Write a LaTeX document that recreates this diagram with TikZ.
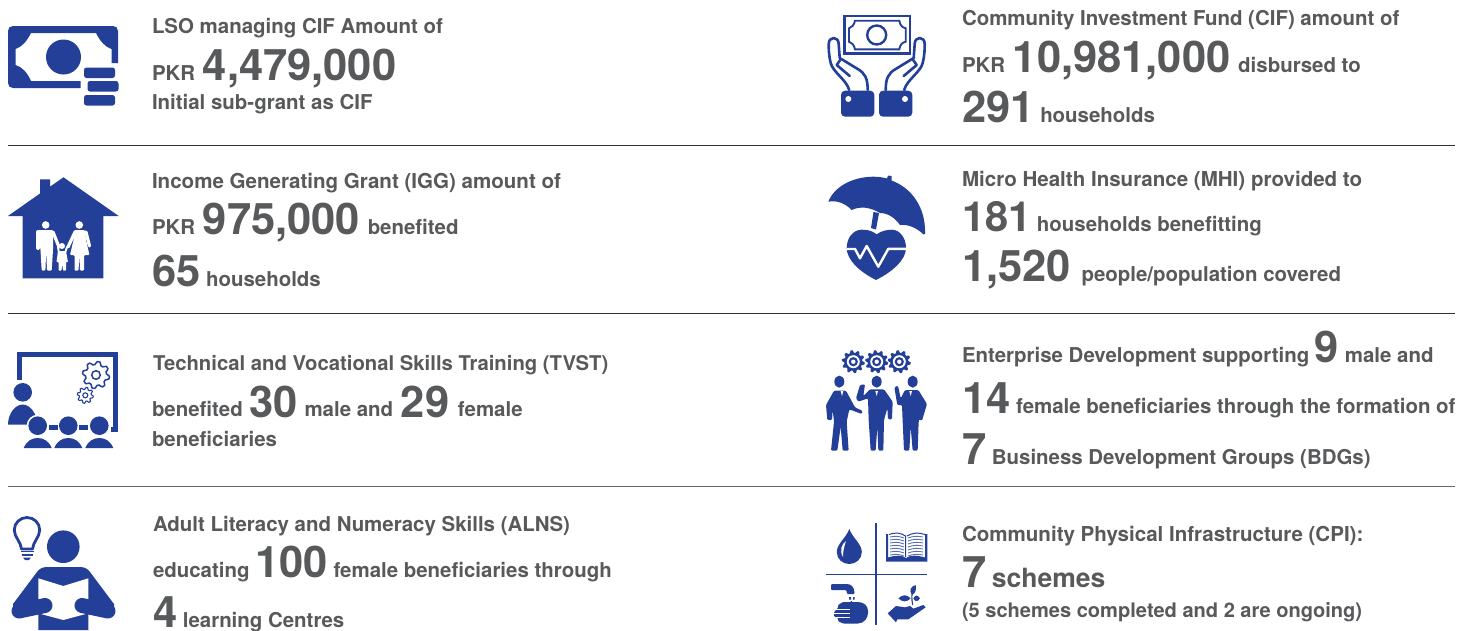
\documentclass[tikz,border=0pt]{standalone}
\usepackage{fontspec}
\setmainfont{TeX Gyre Heros}
\definecolor{ib}{HTML}{233F97}
\definecolor{tg}{HTML}{58595B}
\newcommand\sm{\fontsize{20.45}{24}\selectfont}
\newcommand\szt[1]{\fontsize{#1}{24}\selectfont}
\newcommand\bn[1]{{\fontsize{43.5}{48}\selectfont #1}}
\newcommand\md[1]{{\fontsize{26.5}{30}\selectfont #1}}
\newcommand\gap{\hspace{2pt}}
\newcommand\gearp[7]{% cx cy rout rin teeth rot drawopts
  \path[#7] plot[domain=0:360,samples=#5*8+1] ({#1+(((#3+#4)/2)+((#3-#4)/2)*max(-1,min(1,3*sin(#5*\x+#6))))*cos(\x)},{#2+(((#3+#4)/2)+((#3-#4)/2)*max(-1,min(1,3*sin(#5*\x+#6))))*sin(\x)}) -- cycle;
}
\tikzset{
  x=1pt,y=-1pt,
  tl/.style={anchor=base west,inner sep=0pt,outer sep=0pt,text=tg,font=\bfseries\sm},
  rule/.style={draw=#1,line width=.9pt},
  lb/.style={draw=ib,fill=none,line width=#1,line cap=round,line join=round},
  wl/.style={draw=white,line width=#1,line cap=round,line join=round},
  zm/.style={x=.33333pt,y=-.33333pt},
}
\begin{document}
\begin{tikzpicture}
\useasboundingbox (0,0) rectangle (1473,630);
\coordinate (r1a) at (8,145); \coordinate (r1b) at (1455,145);
\coordinate (r2a) at (8,313); \coordinate (r2b) at (1455,313);
\coordinate (r3a) at (8,486); \coordinate (r3b) at (1455,486);
\draw[rule=black!80] (r1a) -- (r1b);
\draw[rule=black!80] (r2a) -- (r2b);
\draw[rule=black!60] (r3a) -- (r3b);
% ---- left text
\node[tl] (a1) at (152,33) {LSO managing CIF Amount of};
\node[tl] (a2) at (152,80) {PKR\gap{} \bn{4,479,000}};
\node[tl] (a3) at (152,109) {Initial sub-grant as CIF};
\node[tl] (b1) at (152,188) {\szt{20.55}Income Generating Grant (IGG) amount of};
\node[tl] (b2) at (152,234.5) {PKR\gap{} \bn{975,000}\gap{} benefited};
\node[tl] (b3) at (152,286) {\bn{65} households};
\node[tl] (c1) at (153,370) {\szt{20.3}Technical and Vocational Skills Training (TVST)};
\node[tl] (c2) at (152,416) {benefited\hspace{1pt} \raisebox{-1.5pt}{\bn{30}}\hspace{1pt} male and\hspace{2pt} \raisebox{-1.5pt}{\bn{29}}\hspace{3pt} female};
\node[tl] (c3) at (152,446) {beneficiaries};
\node[tl] (d1) at (153,531) {Adult Literacy and Numeracy Skills (ALNS)};
\node[tl] (d2) at (153,577) {educating \bn{100} female beneficiaries through};
\node[tl] (d3) at (153,627) {\bn{4} learning Centres};
% ---- right text
\node[tl] (e1) at (962,25) {Community Investment Fund (CIF) amount of};
\node[tl] (e2) at (962,72) {PKR\gap{} \bn{10,981,000}\gap{} disbursed to};
\node[tl] (e3) at (962,122) {\bn{291} households};
\node[tl] (f1) at (962,186) {\szt{20.55}Micro Health Insurance (MHI) provided to};
\node[tl] (f2) at (962,231) {\bn{\fontsize{41.5}{48}\selectfont 181} households benefitting};
\node[tl] (f3) at (962,281) {\bn{1,520}\hspace{5pt} people/population covered};
\node[tl] (g1) at (962,362) {Enterprise Development supporting \bn{9} male and};
\node[tl] (g2) at (962,413) {\bn{14} female beneficiaries through the formation of};
\node[tl] (g3) at (962,464) {\bn{7} Business Development Groups (BDGs)};
\node[tl] (h1) at (962,541) {\szt{20.55}Community Physical Infrastructure (CPI):};
\node[tl] (h2) at (962,587) {\bn{7} \md{schemes}};
\node[tl] (h3) at (962,617) {\szt{20.05}(5 schemes completed and 2 are ongoing)};
% ---- icon 1 money
\fill[ib] (118,63) -- (118,31) .. controls (118,28) and (116,26) .. (113,26) -- (13,26) .. controls (10,26) and (8,28) .. (8,31) -- (8,83) .. controls (8,86) and (10,88) .. (13,88) -- (80.5,88) -- (80.5,81) -- (31,81) .. controls (27,72) and (22,67) .. (15.5,65) -- (15.5,49) .. controls (22,47) and (27,41) .. (31,33) -- (96,33) .. controls (100,41) and (105,47) .. (111.5,49) -- (111.5,63) -- cycle;
\fill[ib] (63.5,57) circle[radius=17.5];
\fill[ib,rounded corners=2.5pt] (84,67.5) rectangle (115,78);
\fill[ib,rounded corners=2.5pt] (87.5,81) rectangle (118.5,91.5);
\fill[ib,rounded corners=2.5pt] (84,95) rectangle (115,105.5);
% ---- icon 2 house
\fill[ib] (8,216) -- (40,193.5) -- (40,179.3) -- (50,179.3) -- (50,186.7) -- (63.5,177.3) -- (118.7,216) -- (103.3,216) -- (103.3,278.3) -- (22.7,278.3) -- (22.7,216) -- cycle;
\fill[white] (45.7,225) circle[radius=3.8] (79.3,225) circle[radius=3.8] (62,246) circle[radius=3];
\draw[wl=4pt] (38,232) -- (38,248);
\fill[white,rounded corners=1pt] (38,230.2) -- (53,230.2) -- (53,250) -- (51.7,270.5) -- (47,270.5) -- (46.2,251) -- (45.4,270.5) -- (41.7,270.5) -- (40.5,250) -- cycle;
\draw[wl=3.2pt] (53,232) -- (59,247);
\fill[white,rounded corners=1pt] (74,230.2) -- (85,230.2) -- (86,240) -- (89.5,255) -- (84,255) -- (84,270.5) -- (80,270.5) -- (79.5,255) -- (78.5,270.5) -- (74.5,270.5) -- (74.5,255) -- (70,255) -- (73.5,240) -- cycle;
\draw[wl=3.2pt] (75,232) -- (68,247);
\draw[wl=3.2pt] (86,232) -- (89.5,246);
\draw[wl=2pt] (59,253) -- (58,247) (65,253) -- (67,247);
\fill[white,rounded corners=.6pt] (58,251) -- (66,251) -- (68,262) -- (66,262) -- (66,270.5) -- (63,270.5) -- (62.2,264) -- (61.5,270.5) -- (58.5,270.5) -- (58.5,262) -- (56.5,262) -- cycle;
% ---- icon 3 training
\draw[draw=ib,line width=4.5pt,line join=miter] (19.5,380) -- (19.5,354.5) -- (115.7,354.5) -- (115.7,429.5) -- (111,429.5);
\fill[ib] (22.7,392.3) circle[radius=9.3];
\fill[ib] (8,424.7) .. controls (8,414) and (15,404.5) .. (22.7,404.5) .. controls (30,404.5) and (37.4,414) .. (37.4,424.7) -- cycle;
\gearp{96}{375}{13.5}{10.5}{8}{0}{draw=ib,fill=white,line width=1.5pt}
\draw[ib,line width=1.5pt] (96,375) circle[radius=4.3];
\gearp{85.3}{395.3}{8}{6}{8}{0}{draw=ib,fill=white,line width=1.1pt}
\draw[ib,line width=1.1pt] (85.3,395.3) circle[radius=2.5];
\foreach \cx in {37.7,68.3,99.3}{
  \fill[white] (\cx,425.7) circle[radius=11];
  \fill[ib] (\cx,425.7) circle[radius=9.3];
  \fill[ib] ({\cx-14},448) .. controls ({\cx-11},441) and ({\cx-6},438) .. (\cx,438) .. controls ({\cx+6},438) and ({\cx+11},441) .. ({\cx+14},448) -- cycle;
}
\fill[ib] (49,425) rectangle (58,429.7);
\fill[ib] (79,425) rectangle (88,429.7);
% ---- icon 4 reader
\draw[lb=2.8pt,line cap=butt] (21.5,549) .. controls (21,542) and (14.3,537) .. (14.3,530) .. controls (14.3,523) and (20,517.5) .. (27,517.5) .. controls (34,517.5) and (39.7,523) .. (39.7,530) .. controls (39.7,537) and (33,542) .. (32.5,549) -- cycle;
\draw[ib,line width=1.8pt] (20.5,551.5) -- (33.5,551.5) (21.5,555) -- (32.5,555);
\fill[ib] (23,557.5) -- (31,557.5) -- (29,560) -- (25,560) -- cycle;
\fill[ib] (63.3,546.7) circle[radius=16.3];
\fill[ib] (38.3,630) -- (38.3,612) -- (13,612) -- (13,604) -- (37,572) .. controls (40,568) and (43,567) .. (48,567) -- (79,567) .. controls (84,567) and (87,568) .. (90,572) -- (114,604) -- (114,612) -- (88.3,612) -- (88.3,630) -- cycle;
\fill[white] (38.3,578.3) -- (63.3,586) -- (88.3,578.3) -- (88.3,613.3) -- (63.3,620) -- (38.3,613.3) -- cycle;
\draw[ib,line width=15pt,line cap=round] (19,611) -- (45,605.5);
\draw[ib,line width=15pt,line cap=round] (108,611) -- (82,605.5);
% ---- icon 5 hands with note
\draw[ib,line width=2.4pt] (844.3,16) rectangle (910,53.3);
\draw[ib,line width=1.9pt] (855,20.7) -- (899.3,20.7) .. controls (900,25) and (902,27.5) .. (905.7,28.3) -- (905.7,41.7) .. controls (902,42.5) and (900,45) .. (899.3,49.3) -- (855,49.3) .. controls (854,45) and (852,42.5) .. (849,41.7) -- (849,28.3) .. controls (852,27.5) and (854,25) .. (855,20.7) -- cycle;
\draw[ib,line width=2.4pt] (876.7,35) circle[radius=9.5];
\fill[ib,rounded corners=4pt] (841,90.7) rectangle (874.3,116.7);
\fill[ib,rounded corners=4pt] (879,90.7) rectangle (912.3,116.7);
\fill[white] (848.3,99) circle[radius=3] (905,99) circle[radius=3];
\foreach \sgn in {1,-1}{
\begin{scope}[shift={(876.7,0)},x={\sgn*1pt}]
\draw[lb=2.6pt] (-27.5,90) .. controls (-30,80) and (-44,72) .. (-46,63) .. controls (-48,55) and (-48,48) .. (-48,44) .. controls (-48,36) and (-38,36) .. (-38,44) -- (-37,58) -- (-19,69) .. controls (-12,73) and (-9,78) .. (-9,90);
\draw[lb=2.6pt] (-36.5,60) -- (-40,65) -- (-27,76);
\end{scope}
}
% ---- icon 6 umbrella
\fill[ib] (828.3,201.7) .. controls (835,185) and (855,176.7) .. (873.3,176.7) .. controls (879,176.7) and (883,177.5) .. (887,178.5) -- (888,175.5) -- (891.5,176) -- (891.5,180.5) .. controls (912,188) and (926,208) .. (925,234) -- (923.3,234.3) .. controls (917,228) and (908,224) .. (900,225) .. controls (895,218) and (888,213) .. (880,213) .. controls (870,207) and (860,206) .. (851.7,210) .. controls (845,203) and (836,200) .. (828.3,201.7) -- cycle;
\fill[ib] (873.5,212) -- (879,213) -- (876,229.5) -- (871,228) -- cycle;
\fill[ib] (876.7,234.3) .. controls (871,230) and (866,229.7) .. (861.7,229.7) .. controls (853,229.7) and (846.7,238) .. (846.7,248) .. controls (846.7,260) and (860,272) .. (876,280) .. controls (892,272) and (906,260) .. (906,248) .. controls (906,238) and (900,229.7) .. (891.7,229.7) .. controls (887,229.7) and (881,231) .. (876.7,234.3) -- cycle;
\draw[white,line width=2.4pt,line join=round] (846.7,249) -- (855,249) -- (860,258.3) -- (866.7,246) -- (878.3,266.7) -- (888.3,248.8) -- (906,248.8);
% ---- icon 7 enterprise
\foreach \gx in {853.3,876.7,899.3}{
  \gearp{\gx}{361.7}{11.5}{9}{10}{0}{fill=ib}
  \fill[white] (\gx,361.7) circle[radius=6.5];
  \fill[ib] (\gx,361.7) circle[radius=4.6];
  \fill[white] (\gx,361.7) circle[radius=2.2];
}
\begin{scope}[shift={(810,330)},zm]
\fill[ib] (88,155) ellipse[x radius=15,y radius=18] (200,155) ellipse[x radius=15,y radius=18] (308,155) ellipse[x radius=15,y radius=18];
\fill[ib,rounded corners=1.2pt] (72,182) -- (108,182) -- (135,232) -- (158,243) -- (155,252) -- (118,238) -- (110,275) -- (116,362) -- (98,362) -- (92,290) -- (82,362) -- (63,362) -- (72,275) -- (68,240) -- (66,270) -- (52,270) -- (48,225) -- cycle;
\fill[ib,rounded corners=1.2pt] (180,178) -- (222,178) -- (248,215) -- (246,268) -- (234,268) -- (232,235) -- (222,270) -- (220,362) -- (205,362) -- (202,290) -- (197,362) -- (182,362) -- (176,270) -- (174,205) -- (145,215) -- (138,205) -- (150,165) -- (165,163) -- (160,198) -- cycle;
\fill[ib,rounded corners=1.2pt] (285,180) -- (325,180) -- (351,222) -- (336,272) -- (325,268) -- (335,225) -- (326,275) -- (323,362) -- (308,362) -- (302,290) -- (298,362) -- (282,362) -- (278,275) -- (276,225) -- (262,225) -- (253,172) -- (264,167) -- (272,205) -- cycle;
\foreach \tx in {96,200,302}{\fill[white] (\tx-4,183) -- (\tx+4,183) -- (\tx,198) -- cycle;}
\end{scope}
% ---- icon 8 CPI
\draw[ib,line width=1.3pt] (876,523.3) -- (876,625);
\draw[ib,line width=1.3pt] (826,574.7) -- (927.3,574.7);
\fill[ib] (849.3,529) .. controls (846,538) and (836.8,544) .. (836.8,552) .. controls (836.8,559) and (842.5,564) .. (849.3,564) .. controls (856,564) and (861.8,559) .. (861.8,552) .. controls (861.8,544) and (852.6,538) .. (849.3,529) -- cycle;
\fill[white] (843,557) .. controls (839,550) and (842,544) .. (846,541) .. controls (844,547) and (843,551) .. (843,557) -- cycle;
\fill[ib] (886,534) -- (888,534) -- (888,557.5) .. controls (896,555) and (902,555) .. (906,558) .. controls (910,555) and (917,555) .. (925,557.5) -- (925,534) -- (927.3,534) -- (927.3,561.7) -- (886,561.7) -- cycle;
\draw[ib,line width=1pt] (889,534.5) .. controls (896,532) and (901,533) .. (905.5,536) -- (905.5,557) (907,536) .. controls (912,533) and (918,532) .. (925,534.5);
\foreach \yy in {537,540,543,546,549,552,555}{
  \draw[ib,line width=.9pt,opacity=.75] (890,\yy) .. controls (895,\yy-1) and (899,\yy-1) .. (904,\yy+1);
  \draw[ib,line width=.9pt,opacity=.75] (908,\yy+1) .. controls (913,\yy-1) and (918,\yy-1) .. (923,\yy);
}
\fill[ib,rounded corners=1pt] (831,584) -- (846,584) .. controls (851,584) and (854.5,587) .. (854.5,594) -- (847,594) .. controls (847,591) and (846,590) .. (844,590) -- (831,590) -- cycle;
\fill[ib] (849,597) rectangle (851,599.5) (853,597) rectangle (854.5,599.5) (850.5,601) rectangle (852,603);
\fill[ib,rounded corners=1pt] (843,602) -- (857,602) .. controls (864,602) and (868,606) .. (868,612) .. controls (868,618) and (864,623.5) .. (857,623.5) -- (843,623.5) -- (838,621) -- (838,618) -- (834,616.5) -- (834,612) -- (838,608) -- (838,605) -- cycle;
\draw[white,line width=.7pt] (834,609) -- (850,609) (834,613) -- (850,613) (836,617) -- (850,617);
\begin{scope}[shift={(810,330)},zm]
\fill[ib] (233,850) -- (258,828) -- (285,832) -- (300,828) -- (310,836) -- (340,825) -- (347,832) -- (295,868) -- (262,868) -- (258,877) -- cycle;
\draw[ib,line width=1.1pt] (308,825) .. controls (304,805) and (305,790) .. (310,775);
\fill[ib] (306,795) .. controls (296,780) and (302,770) .. (317,765) .. controls (320,780) and (316,790) .. (306,795) -- cycle;
\fill[ib] (302,805) .. controls (290,793) and (278,793) .. (265,805) .. controls (278,817) and (290,817) .. (302,805) -- cycle;
\fill[ib] (310,805) .. controls (316,795) and (322,793) .. (330,805) .. controls (322,817) and (316,815) .. (310,805) -- cycle;
\end{scope}
\end{tikzpicture}
\end{document}
